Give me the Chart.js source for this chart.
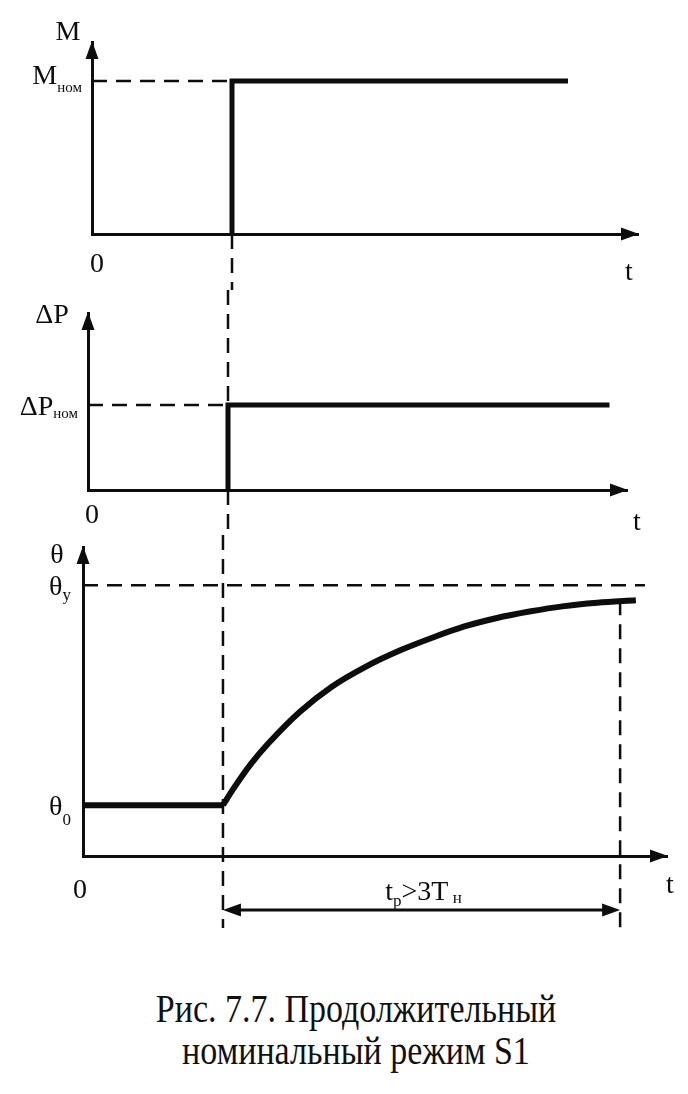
<!DOCTYPE html>
<html>
<head>
<meta charset="utf-8">
<script src="https://cdn.jsdelivr.net/npm/chart.js@4/dist/chart.umd.min.js"></script>
<style>
  body { margin: 0; background: #fff; width: 688px; height: 1094px; overflow: hidden; position: relative; }
  canvas { position: absolute; left: 0; }
  #caption {
    position: absolute; left: 12px; width: 688px; top: 988px;
    text-align: center; font: 40px/42px "Liberation Serif", "Times New Roman", serif;
    color: #111; transform: scaleX(0.85); transform-origin: 50% 0;
  }
</style>
</head>
<body>
<canvas id="c1" width="688" height="290" style="top:0"></canvas>
<canvas id="c2" width="688" height="245" style="top:290px"></canvas>
<canvas id="c3" width="688" height="425" style="top:535px"></canvas>
<div id="caption">Рис. 7.7. Продолжительный<br>номинальный режим S1</div>
<script>
// switch-on moment and end of the run (same time units on all three plots)
const tOn = 4;
const tEnd = 15.35;

// torque M
const mTime = [4, 4, 13.6];
const mValue = [0, 1, 1];
const mNom = 1;

// losses dP
const pTime = [4, 4, 14.9];
const pValue = [0, 1, 1];
const pNom = 1;

// temperature theta: start level, heating curve, steady value
const thStart = 18.5;
const thTime = [4, 4.3, 4.8, 5.3, 6.2, 7.1, 8.1, 9.1, 10.0, 10.9, 11.8, 12.8, 13.7, 14.7, 15.8];
const thValue = [18.5, 24.5, 33.5, 41, 52.5, 61.5, 69, 75, 79.5, 83.5, 86.5, 89, 90.8, 92.1, 93];
const thSteady = 98.5;
const thDashEnd = 16.06;

const ink = '#0d0d0d';
const serif = '"Liberation Serif", "Times New Roman", serif';

function pts(xs, ys) { return xs.map((v, i) => ({ x: v, y: ys[i] })); }

function text(ctx, parts, x, y, align) {
  let w = 0;
  parts.forEach(p => { ctx.font = p[1] + 'px ' + serif; w += ctx.measureText(p[0]).width; });
  let cx = align === 'right' ? x - w : align === 'center' ? x - w / 2 : x;
  parts.forEach(p => {
    ctx.font = p[1] + 'px ' + serif;
    ctx.fillText(p[0], cx, y + (p[2] || 0));
    cx += ctx.measureText(p[0]).width;
  });
}

function head(ctx, x, y, dir) {
  const L = 18, H = 6.5;
  ctx.beginPath();
  ctx.moveTo(x, y);
  if (dir === 'up') { ctx.lineTo(x - H, y + L); ctx.lineTo(x + H, y + L); }
  if (dir === 'right') { ctx.lineTo(x - L, y - H); ctx.lineTo(x - L, y + H); }
  if (dir === 'left') { ctx.lineTo(x + L, y - H); ctx.lineTo(x + L, y + H); }
  ctx.closePath();
  ctx.fill();
}

const diagram = {
  id: 'diagram',
  afterDraw(chart, args, o) {
    const { ctx, chartArea: a, scales: { x, y } } = chart;
    const r = { x, y, a, x0: x.getPixelForValue(0), y0: y.getPixelForValue(0) };
    ctx.save();
    ctx.fillStyle = ink;
    ctx.strokeStyle = ink;
    head(ctx, r.x0, a.top - 1, 'up');
    head(ctx, a.right + 1, r.y0, 'right');

    // dashed guide lines
    ctx.lineWidth = 2.5;
    ctx.setLineDash([15, 9]);
    const yp = v => v === 'top' ? 0 : v === 'bottom' ? chart.height : v.below !== undefined ? r.y0 + v.below : y.getPixelForValue(v);
    (o.guides || []).forEach(g => {
      const px = x.getPixelForValue(g.t);
      ctx.beginPath();
      ctx.moveTo(px, yp(g.from));
      ctx.lineTo(px, yp(g.to));
      ctx.stroke();
    });
    ctx.setLineDash([]);
    ctx.textBaseline = 'alphabetic';
    ctx.textAlign = 'left';
    if (o.draw) o.draw(ctx, r);
    ctx.restore();
  }
};

function axis(max) {
  return {
    type: 'linear', min: 0, max: max,
    grid: { display: false, drawTicks: false },
    ticks: { display: false },
    border: { display: true, width: 3, color: ink }
  };
}

function line(data, width, dash) {
  return {
    data: data, borderColor: ink, borderWidth: width, borderDash: dash || [],
    pointRadius: 0, fill: false, clip: false, borderJoinStyle: 'miter', borderCapStyle: 'butt'
  };
}

function makeChart(id, pad, xMax, yMax, datasets, deco) {
  return new Chart(document.getElementById(id), {
    type: 'line',
    data: { datasets: datasets },
    options: {
      responsive: false,
      animation: false,
      devicePixelRatio: 1,
      layout: { padding: pad, autoPadding: false },
      plugins: { legend: { display: false }, tooltip: { enabled: false }, diagram: deco },
      scales: { x: axis(xMax), y: axis(yMax) }
    },
    plugins: [diagram]
  });
}

// M(t)
makeChart('c1', { left: 92, right: 50, top: 42, bottom: 56 }, 15.6, 1.255, [
  line(pts([0, tOn], [mNom, mNom]), 2.5, [15, 9]),
  line(pts(mTime, mValue), 5)
], {
  guides: [{ t: tOn, from: 0, to: 'bottom' }],
  draw(ctx, r) {
    const lvl = r.y.getPixelForValue(mNom);
    text(ctx, [['M', 28]], r.x0 - 24, r.a.top - 2, 'center');
    text(ctx, [['M', 28], ['ном', 15, 8]], r.x0 - 10, lvl + 3, 'right');
    text(ctx, [['0', 28]], r.x0 + 5, r.y0 + 38, 'center');
    text(ctx, [['t', 28]], r.a.right - 9, r.y0 + 46, 'center');
  }
});

// dP(t)
makeChart('c2', { left: 88, right: 61, top: 23, bottom: 45 }, 15.4, 2.08, [
  line(pts([0, tOn], [pNom, pNom]), 2.5, [15, 9]),
  line(pts(pTime, pValue), 5)
], {
  guides: [{ t: tOn, from: 'top', to: pNom }, { t: tOn, from: 0, to: 'bottom' }],
  draw(ctx, r) {
    const lvl = r.y.getPixelForValue(pNom);
    text(ctx, [['ΔP', 28]], r.x0 - 36, r.a.top + 10, 'center');
    text(ctx, [['ΔP', 28], ['ном', 15, 3]], r.x0 - 10, lvl + 10, 'right');
    text(ctx, [['0', 28]], r.x0 + 4, r.y0 + 33, 'center');
    text(ctx, [['t', 28]], r.a.right + 10, r.y0 + 40, 'center');
  }
});

// theta(t)
makeChart('c3', { left: 83, right: 21, top: 12, bottom: 104 }, 16.69, 112.4, [
  line(pts([0, thDashEnd], [thSteady, thSteady]), 2.5, [15, 9]),
  line(pts([0, tOn], [thStart, thStart]), 6),
  Object.assign(line(pts(thTime, thValue), 6), { cubicInterpolationMode: 'monotone' })
], {
  guides: [
    { t: tOn, from: 'top', to: { below: 72 } },
    { t: tEnd, from: thValue[thValue.length - 1], to: { below: 72 } }
  ],
  draw(ctx, r) {
    text(ctx, [['θ', 28]], r.x0 - 26, r.a.top + 16, 'center');
    text(ctx, [['θ', 28], ['у', 17, 5]], r.x0 - 12, r.y.getPixelForValue(thSteady) + 10, 'right');
    text(ctx, [['θ', 28], ['0', 17, 10]], r.x0 - 12, r.y.getPixelForValue(thStart) + 10, 'right');
    text(ctx, [['0', 28]], r.x0 - 3, r.y0 + 42, 'center');
    text(ctx, [['t', 28]], r.a.right + 3, r.y0 + 37, 'center');
    // run duration
    const xa = r.x.getPixelForValue(tOn), xb = r.x.getPixelForValue(tEnd), yd = r.y0 + 54;
    ctx.lineWidth = 3;
    ctx.beginPath();
    ctx.moveTo(xa + 10, yd);
    ctx.lineTo(xb - 10, yd);
    ctx.stroke();
    head(ctx, xa, yd, 'left');
    head(ctx, xb, yd, 'right');
    text(ctx, [['t', 28], ['р', 17, 6], ['>3T', 28], [' н', 17, 3]], (xa + xb) / 2 + 2, r.y0 + 44, 'center');
  }
});
</script>
</body>
</html>
